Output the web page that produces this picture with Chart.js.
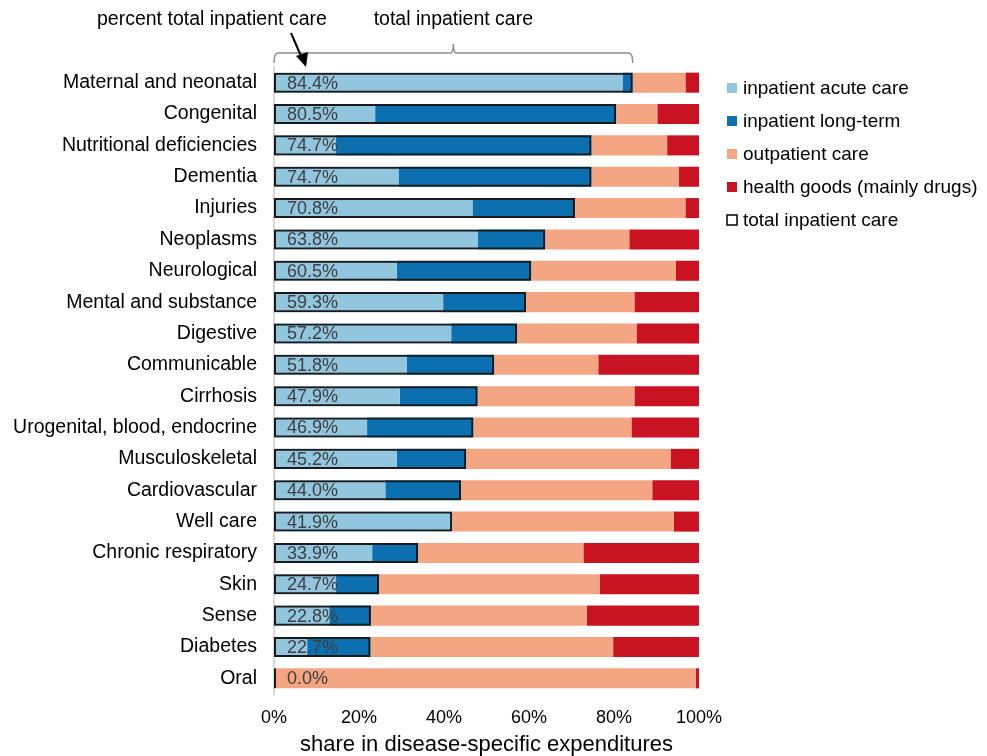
<!DOCTYPE html>
<html>
<head>
<meta charset="utf-8">
<script src="https://cdn.jsdelivr.net/npm/chart.js@4.4.1/dist/chart.umd.min.js"></script>
<style>
    html, body { margin: 0; padding: 0; background: #fff; }
    #wrap { position: relative; width: 987px; height: 756px; }
</style>
</head>
<body>
<div id="wrap"><canvas id="shareChart"></canvas></div>
<script>
const categories = [
    "Maternal and neonatal", "Congenital", "Nutritional deficiencies", "Dementia", "Injuries",
    "Neoplasms", "Neurological", "Mental and substance", "Digestive", "Communicable",
    "Cirrhosis", "Urogenital, blood, endocrine", "Musculoskeletal", "Cardiovascular", "Well care",
    "Chronic respiratory", "Skin", "Sense", "Diabetes", "Oral"
];
const inpatientAcute = [82.0, 23.8, 14.6, 29.3, 46.7, 48.0, 28.9, 39.8, 41.7, 31.2, 29.6, 21.9, 28.9, 26.2, 41.9, 23.1, 14.6, 13.0, 7.8, 0];
const inpatientLongTerm = [2.4, 56.7, 60.1, 45.4, 24.1, 15.8, 31.6, 19.5, 15.5, 20.6, 18.3, 25.0, 16.3, 17.8, 0, 10.8, 10.1, 9.8, 14.9, 0];
const outpatientCare = [12.4, 9.7, 17.8, 20.6, 26.0, 19.8, 34.0, 25.5, 28.1, 24.5, 36.9, 37.2, 48.1, 45.0, 52.2, 38.9, 51.9, 50.8, 57.1, 99.2];
const healthGoods = [3.2, 9.8, 7.5, 4.7, 3.2, 16.4, 5.5, 15.2, 14.7, 23.7, 15.2, 15.9, 6.7, 11.0, 5.9, 27.2, 23.4, 26.4, 20.2, 0.8];
const totalInpatient = [84.4, 80.5, 74.7, 74.7, 70.8, 63.8, 60.5, 59.3, 57.2, 51.8, 47.9, 46.9, 45.2, 44.0, 41.9, 33.9, 24.7, 22.8, 22.7, 0.0];
const xTicks = [0, 20, 40, 60, 80, 100];

const FONT = "'Liberation Sans', Arial, sans-serif";

// annotations, bar labels and legend
const extras = {
    id: "extras",
    afterDatasetsDraw(chart) {
        const ctx = chart.ctx;
        const x = chart.scales.x;
        const y = chart.scales.y;

        // percent labels inside the bars
        ctx.save();
        ctx.font = "18px " + FONT;
        ctx.fillStyle = "#404040";
        ctx.textBaseline = "middle";
        ctx.textAlign = "left";
        totalInpatient.forEach((v, i) => {
            ctx.fillText(v.toFixed(1) + "%", x.getPixelForValue(0) + 13, y.getPixelForValue(i) + 1);
        });
        ctx.restore();
    },
    afterDraw(chart) {
        const ctx = chart.ctx;
        const x = chart.scales.x;
        const x0 = x.getPixelForValue(0);
        const x1 = x.getPixelForValue(totalInpatient[0]);
        const xm = (x0 + x1) / 2;

        // bracket over the first bar
        ctx.save();
        ctx.strokeStyle = "#8c8c8c";
        ctx.lineWidth = 1.5;
        ctx.beginPath();
        ctx.moveTo(x0, 63);
        ctx.quadraticCurveTo(x0, 53, x0 + 4, 53);
        ctx.lineTo(xm - 3, 53);
        ctx.quadraticCurveTo(xm, 53, xm, 44);
        ctx.quadraticCurveTo(xm, 53, xm + 3, 53);
        ctx.lineTo(x1 - 4, 53);
        ctx.quadraticCurveTo(x1, 53, x1, 63);
        ctx.stroke();

        // top texts
        ctx.fillStyle = "#000";
        ctx.font = "19.5px " + FONT;
        ctx.textBaseline = "middle";
        ctx.textAlign = "left";
        ctx.fillText("percent total inpatient care", 97, 20);
        ctx.textAlign = "center";
        ctx.fillText("total inpatient care", xm, 20);

        // arrow
        ctx.strokeStyle = "#000";
        ctx.lineWidth = 2;
        ctx.beginPath();
        ctx.moveTo(291, 33);
        ctx.lineTo(301, 56);
        ctx.stroke();
        ctx.beginPath();
        ctx.moveTo(306, 67);
        ctx.lineTo(296, 56);
        ctx.lineTo(308, 52);
        ctx.closePath();
        ctx.fill();

        // legend
        const items = chart.data.datasets.slice().sort((a, b) => a.legendIndex - b.legendIndex);
        ctx.font = "19px " + FONT;
        ctx.textAlign = "left";
        items.forEach((ds, i) => {
            const cy = 88 + i * 33;
            if (ds.outline) {
                ctx.fillStyle = "#fff";
                ctx.fillRect(727, cy - 5, 10, 10);
                ctx.strokeStyle = "#000";
                ctx.lineWidth = 1.5;
                ctx.strokeRect(727, cy - 5, 10, 10);
            } else {
                ctx.fillStyle = ds.backgroundColor;
                ctx.fillRect(727, cy - 5, 10, 10);
            }
            ctx.fillStyle = "#000";
            ctx.fillText(ds.label, 743, cy + 1);
        });
        ctx.restore();
    }
};

const ctx = document.getElementById("shareChart").getContext("2d");
new Chart(ctx, {
    type: "bar",
    data: {
        labels: categories,
        datasets: [
            {
                label: "total inpatient care",
                data: totalInpatient,
                stack: "total",
                grouped: false,
                order: -1,
                outline: true,
                legendIndex: 4,
                backgroundColor: "rgba(0,0,0,0)",
                borderColor: "#1a1a1a",
                borderWidth: 2,
                borderSkipped: false,
                minBarLength: 2
            },
            { label: "inpatient acute care", data: inpatientAcute, stack: "main", legendIndex: 0, backgroundColor: "#92c5de" },
            { label: "inpatient long-term", data: inpatientLongTerm, stack: "main", legendIndex: 1, backgroundColor: "#0b6fb0" },
            { label: "outpatient care", data: outpatientCare, stack: "main", legendIndex: 2, backgroundColor: "#f4a582" },
            { label: "health goods (mainly drugs)", data: healthGoods, stack: "main", legendIndex: 3, backgroundColor: "#ca1322" }
        ]
    },
    options: {
        indexAxis: "y",
        responsive: true,
        maintainAspectRatio: false,
        animation: false,
        datasets: { bar: { barPercentage: 0.64, categoryPercentage: 1.0 } },
        layout: { padding: { top: 67, right: 288, bottom: 0, left: 0 } },
        scales: {
            x: {
                stacked: true,
                min: 0,
                max: 100,
                afterBuildTicks: (scale) => { scale.ticks = xTicks.map(v => ({ value: v })); },
                afterFit: (scale) => { scale.height = 62; },
                grid: { display: false, drawTicks: false },
                border: { display: false },
                ticks: {
                    padding: 13,
                    color: "#000",
                    font: { family: FONT, size: 18 },
                    callback: (v) => v + "%"
                },
                title: {
                    display: true,
                    text: "share in disease-specific expenditures",
                    color: "#000",
                    font: { family: FONT, size: 22, lineHeight: 1.0 },
                    padding: { top: 0, bottom: 0 }
                }
            },
            y: {
                stacked: true,
                afterFit: (scale) => { scale.width = 274; },
                grid: { display: false, drawTicks: false },
                border: { display: true, color: "#d9d9d9", width: 2 },
                ticks: {
                    padding: 17,
                    color: "#000",
                    font: { family: FONT, size: 19.5 }
                }
            }
        },
        plugins: {
            legend: { display: false },
            tooltip: { enabled: false }
        }
    },
    plugins: [extras]
});
</script>
</body>
</html>
